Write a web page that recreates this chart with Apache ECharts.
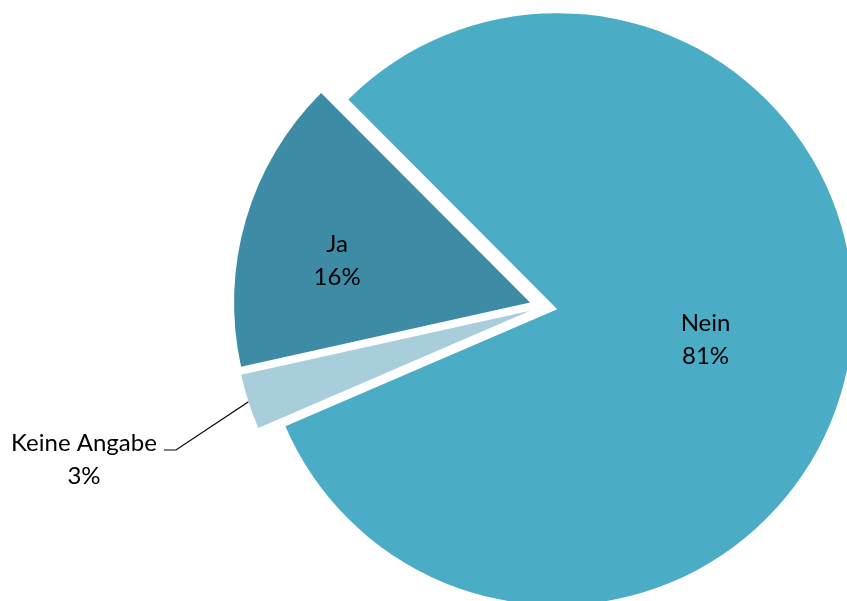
<!DOCTYPE html>
<html>
<head>
<meta charset="utf-8">
<script src="https://cdn.jsdelivr.net/npm/echarts@6/dist/echarts.min.js"></script>
<style>
  html, body { margin: 0; padding: 0; background: #ffffff; }
  #chart { width: 847px; height: 601px; }
</style>
</head>
<body>
<div id="chart"></div>
<script>
// Survey answers and their shares in percent
const categories = ['Ja', 'Nein', 'Keine Angabe'];
const shares = [16, 81, 3];
const sliceColors = ['#3d8ba4', '#4bacc6', '#a8cedc'];

const chart = echarts.init(document.getElementById('chart'), null, { renderer: 'canvas' });

const FONT = 'Lato';

const pieData = categories.map((name, i) => ({
  name: name,
  value: shares[i],
  // every slice is pulled slightly away from the centre
  selected: true,
  itemStyle: { color: sliceColors[i] },
  label: i === 2
    ? {
        position: 'outside',
        distanceToLabelLine: 5,
        padding: [20, 0, 0, 0],
        formatter: '{t|{b}}\n{t|{d}%}',
        rich: { t: { width: 150, align: 'center', fontSize: 24, lineHeight: 33, color: '#000', fontFamily: FONT } }
      }
    : { position: 'inside' },
  labelLine: i === 2
    ? { show: true, length: 30, length2: 12, lineStyle: { color: '#000', width: 1.2 } }
    : { show: false }
}));

// small nudges of the label text relative to the library's own placement
const labelShift = [[-48, 1], [0, 2], [-44, 39]];

chart.setOption({
  animation: false,
  series: [{
    type: 'pie',
    center: [543.5, 306.5],
    radius: 296,
    startAngle: 192.5,
    clockwise: true,
    selectedMode: 'multiple',
    selectedOffset: 14,
    avoidLabelOverlap: false,
    emphasis: { disabled: true },
    itemStyle: { borderWidth: 0 },
    label: {
      show: true,
      formatter: '{b}\n{d}%',
      fontFamily: FONT,
      fontSize: 24,
      lineHeight: 33,
      color: '#000'
    },
    labelLayout: function (params) {
      const s = labelShift[params.dataIndex];
      const out = { dx: s[0], dy: s[1] };
      const pts = params.labelLinePoints;
      if (params.dataIndex === 2 && pts) {
        // keep the line's start on the slice, move the elbow and end with the text
        out.labelLinePoints = [
          pts[0],
          [pts[1][0] + s[0], pts[1][1] + s[1]],
          [pts[2][0] + s[0], pts[2][1] + s[1]]
        ];
      }
      return out;
    },
    data: pieData
  }]
});
</script>
</body>
</html>
